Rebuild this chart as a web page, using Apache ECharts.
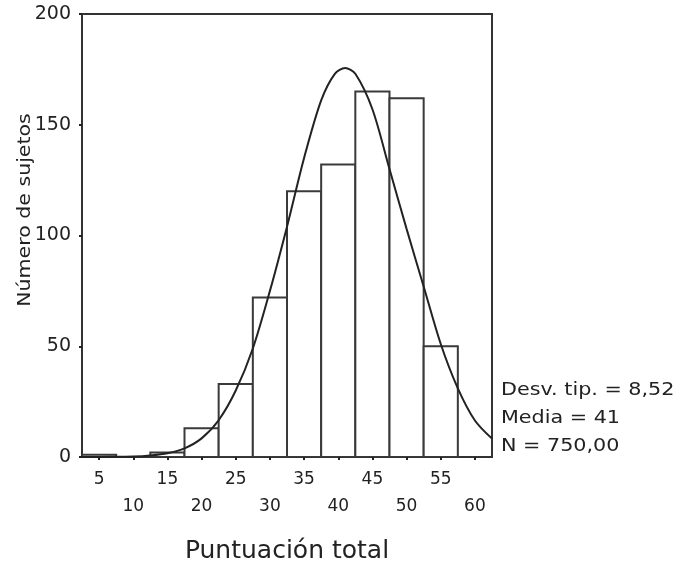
<!DOCTYPE html>
<html>
<head>
<meta charset="utf-8">
<script src="https://cdn.jsdelivr.net/npm/echarts@6/dist/echarts.min.js"></script>
<style>
html,body{margin:0;padding:0;background:#fff;}
#chart{width:678px;height:572px;}
</style>
</head>
<body>
<div id="chart"></div>
<script>
// Histogram bins (centers) and counts
const binCenters = [5, 10, 15, 20, 25, 30, 35, 40, 45, 50, 55, 60];
const binCounts  = [1, 0, 2, 13, 33, 72, 120, 132, 165, 162, 50, 0];
const binWidth = 5;

// Normal curve points
const curveX = [2.5, 5, 7.5, 10, 12.5, 15, 17.5, 20, 22.5, 25, 27.5, 30, 32.5, 35, 37.5, 39.5, 41, 42.5, 45, 47.5, 50, 52.5, 55, 57.5, 60, 62.5];
const curveY = [0, 0, 0.1, 0.2, 0.7, 1.7, 3.9, 8.4, 16.6, 30, 49, 75, 104, 135, 161, 173, 175.6, 173, 157, 130, 103, 77, 51, 31, 16.5, 8.3];

// Axis ticks
const xTicks = [5, 10, 15, 20, 25, 30, 35, 40, 45, 50, 55, 60];

// Texts
const statsLines = ['Desv. tip. = 8,52', 'Media = 41', 'N = 750,00'];
const xTitle = 'Puntuación total';
const yTitle = 'Número de sujetos';

const chart = echarts.init(document.getElementById('chart'));
const font = 'DejaVu Sans';

const barData = binCenters.map((c, i) => [c, binCounts[i]]);
const curveData = curveX.map((x, i) => [x, curveY[i]]);

chart.setOption({
  animation: false,
  backgroundColor: '#fff',
  grid: { left: 82, right: 186, top: 14, bottom: 115, show: true, borderColor: '#333', borderWidth: 2 },
  xAxis: {
    type: 'value', min: 2.5, max: 62.5,
    name: xTitle, nameLocation: 'middle', nameGap: 82,
    nameTextStyle: { fontFamily: font, fontSize: 25, color: '#222' },
    axisLine: { show: true, lineStyle: { color: '#333', width: 2 } },
    axisTick: { show: true, customValues: xTicks, length: 3, inside: false, lineStyle: { color: '#222', width: 2 } },
    axisLabel: {
      customValues: xTicks, margin: 9, fontFamily: font, fontSize: 17, color: '#222', lineHeight: 27,
      formatter: v => (v % 10 === 0 ? '\n' + v : '' + v)
    },
    splitLine: { show: false }
  },
  yAxis: {
    type: 'value', min: 0, max: 200, interval: 50,
    axisLine: { show: true, lineStyle: { color: '#333', width: 2 } },
    axisTick: { show: true, length: 3, lineStyle: { color: '#222', width: 2 } },
    axisLabel: { margin: 11, fontFamily: font, fontSize: 19, color: '#222' },
    splitLine: { show: false }
  },
  graphic: [
    {
      type: 'text', x: 25, y: 210, rotation: Math.PI / 2, scaleX: 1.14,
      style: { text: yTitle, font: '18px "DejaVu Sans"', fill: '#222', align: 'center', verticalAlign: 'middle' }
    },
    ...statsLines.map((t, i) => ({
      type: 'text', x: 501, y: 390 + i * 28, scaleX: 1.15,
      style: { text: t, font: '18px "DejaVu Sans"', fill: '#222', align: 'left', verticalAlign: 'middle' }
    }))
  ],
  series: [
    {
      type: 'custom',
      data: barData,
      clip: true,
      z: 2,
      renderItem: function (params, api) {
        const c = api.value(0), n = api.value(1);
        if (!n) return null;
        const p0 = api.coord([c - binWidth / 2, n]);
        const p1 = api.coord([c + binWidth / 2, 0]);
        return {
          type: 'rect',
          shape: { x: p0[0], y: p0[1], width: p1[0] - p0[0], height: p1[1] - p0[1] },
          style: { fill: '#fff', stroke: '#3a3a3a', lineWidth: 2 }
        };
      }
    },
    {
      type: 'line',
      data: curveData,
      smooth: 0.3,
      showSymbol: false,
      symbol: 'none',
      z: 3,
      lineStyle: { color: '#222', width: 2 }
    }
  ]
});
</script>
</body>
</html>
